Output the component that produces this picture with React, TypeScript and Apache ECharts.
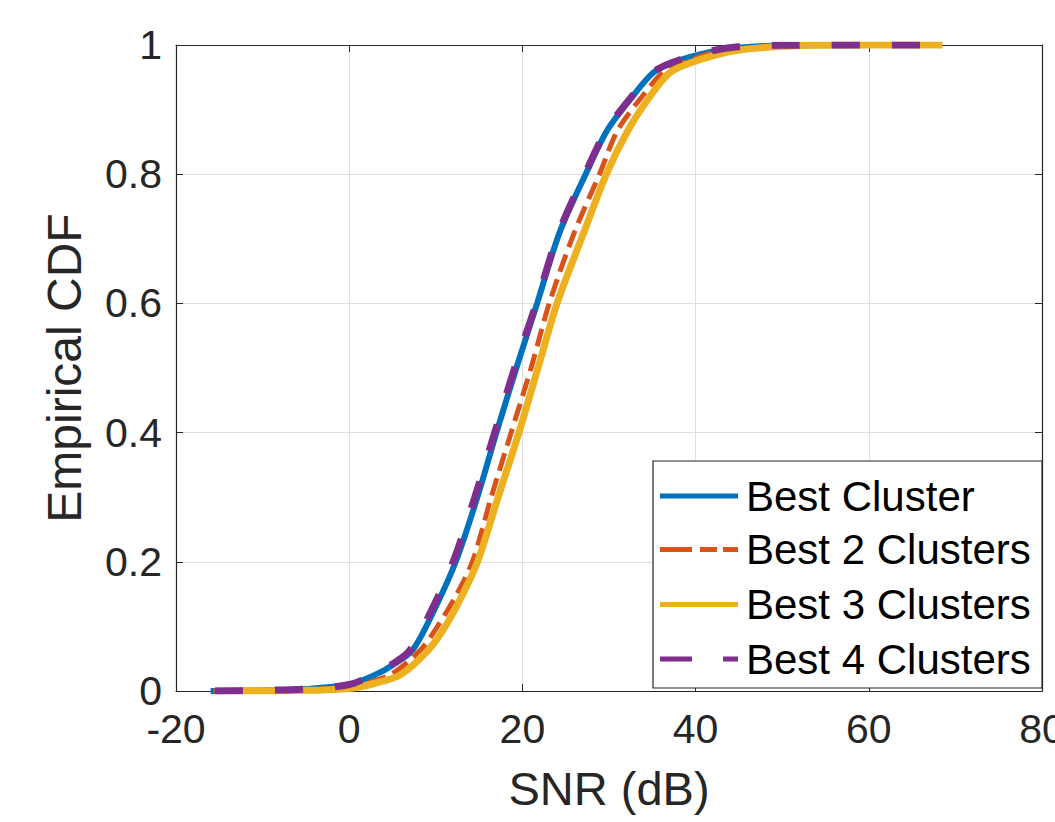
import React, { useEffect, useRef } from "react";
import * as echarts from "echarts";

// ---- data ----
const seriesNames = ["Best Cluster", "Best 2 Clusters", "Best 3 Clusters", "Best 4 Clusters"];

const snrBest1 = [-16, -10, -5, 0, 3, 5, 7.3, 9.8, 12.3, 14.8, 17.0, 19.3, 21.7, 24.3, 27.3, 29.8, 32.7, 35.1, 37.4, 42, 46, 52, 66];
const cdfBest1 = [0, 0.001, 0.003, 0.01, 0.025, 0.04, 0.063, 0.125, 0.2, 0.3, 0.4, 0.5, 0.6, 0.71, 0.8, 0.868, 0.92, 0.957, 0.973, 0.99, 0.997, 0.9995, 1];

const snrBest2 = [-15.7, -10, -5, 0, 4.7, 8.2, 10.2, 12.5, 14.3, 16.4, 18.7, 21.0, 23.1, 26.0, 28.9, 31.0, 33.8, 36.2, 38.5, 42, 47, 54, 67];
const cdfBest2 = [0, 0.0005, 0.002, 0.006, 0.025, 0.063, 0.1, 0.152, 0.203, 0.3, 0.4, 0.5, 0.6, 0.71, 0.8, 0.868, 0.92, 0.957, 0.972, 0.988, 0.996, 0.9995, 1];

const snrBest3 = [-15.5, -10, -5, 0, 3, 5.9, 9.1, 11.1, 13.2, 14.9, 17.2, 19.6, 21.8, 24.0, 27.1, 29.7, 32.2, 34.7, 37.0, 39.3, 44, 48, 53, 68.5];
const cdfBest3 = [0, 0.0005, 0.001, 0.004, 0.012, 0.025, 0.063, 0.1, 0.152, 0.203, 0.3, 0.4, 0.5, 0.6, 0.71, 0.8, 0.868, 0.92, 0.957, 0.972, 0.99, 0.996, 0.9995, 1];

const snrBest4 = [-15.5, -10, -5, 0, 2.8, 4.8, 7.0, 9.5, 12.0, 14.5, 16.8, 19.1, 21.6, 24.2, 27.2, 29.7, 32.6, 35.0, 37.3, 41.5, 45.5, 50, 67.5];
const cdfBest4 = [0, 0.001, 0.003, 0.01, 0.025, 0.04, 0.063, 0.125, 0.2, 0.3, 0.4, 0.5, 0.6, 0.71, 0.8, 0.868, 0.92, 0.957, 0.973, 0.99, 0.998, 0.9997, 1];

const xTickValues = [-20, 0, 20, 40, 60, 80];
const yTickValues = [0, 0.2, 0.4, 0.6, 0.8, 1];

const colors = ["#0072BD", "#D95319", "#EDB120", "#7E2F8E"];

const FONT = "'Liberation Sans', Arial, Helvetica, sans-serif";
const AXIS_COLOR = "#262626";

function pairs(xs: number[], ys: number[]) {
  return xs.map((x, i) => [x, ys[i]]);
}

export default function App() {
  const ref = useRef<HTMLDivElement>(null);

  useEffect(() => {
    document.body.style.margin = "0";
    if (!ref.current) return;
    const chart = echarts.init(ref.current, undefined, { renderer: "svg" });

    const xMin = xTickValues[0];
    const xMax = xTickValues[xTickValues.length - 1];
    const xInt = xTickValues[1] - xTickValues[0];
    const yMin = yTickValues[0];
    const yMax = yTickValues[yTickValues.length - 1];
    const yInt = yTickValues[1] - yTickValues[0];

    const tickStyle = { show: true, inside: true, length: 7, lineStyle: { color: AXIS_COLOR, width: 1 } };
    const lineStyleAxis = { show: true, onZero: false, lineStyle: { color: AXIS_COLOR, width: 1.2 } };

    const dataSets = [
      pairs(snrBest1, cdfBest1),
      pairs(snrBest2, cdfBest2),
      pairs(snrBest3, cdfBest3),
      pairs(snrBest4, cdfBest4),
    ];
    const widths = [6, 5, 7, 7];
    const dashes: any[] = ["solid", [18, 8], "solid", [28, 32]];
    const legendDashes: any[] = [null, [32, 8, 17, 6, 15, 0], null, [32, 31, 15, 0]];

    // legend drawn as graphic (box, line samples, labels)
    const lgLeft = 653;
    const lgTop = 461;
    const lgW = 389;
    const lgH = 227;
    const rowY = [496, 549.5, 604.5, 659];
    const legendEls: any[] = [
      {
        type: "rect",
        shape: { x: lgLeft, y: lgTop, width: lgW, height: lgH },
        style: { fill: "#ffffff", stroke: AXIS_COLOR, lineWidth: 1.2 },
        z: 100,
      },
    ];
    seriesNames.forEach((name, i) => {
      legendEls.push({
        type: "line",
        shape: { x1: 660, y1: rowY[i], x2: 738, y2: rowY[i] },
        style: {
          stroke: colors[i],
          lineWidth: 5,
          lineDash: legendDashes[i] || undefined,
          lineCap: "butt",
        },
        z: 101,
      });
      legendEls.push({
        type: "text",
        x: 746,
        y: rowY[i],
        style: {
          text: name,
          fontFamily: FONT,
          fontSize: 42,
          fill: "#000000",
          verticalAlign: "middle",
          align: "left",
        },
        z: 101,
      });
    });

    chart.setOption({
      animation: false,
      backgroundColor: "#ffffff",
      grid: { left: 176, right: 13, top: 45, bottom: 131, containLabel: false, outerBoundsMode: "none" },
      graphic: legendEls,
      xAxis: [
        {
          type: "value",
          min: xMin,
          max: xMax,
          interval: xInt,
          name: "SNR (dB)",
          nameLocation: "middle",
          nameGap: 74,
          nameTextStyle: { fontFamily: FONT, fontSize: 47, color: AXIS_COLOR },
          axisLine: lineStyleAxis,
          axisTick: tickStyle,
          axisLabel: { fontFamily: FONT, fontSize: 41, color: AXIS_COLOR, margin: 17, showMaxLabel: true, showMinLabel: true },
          splitLine: { show: true, lineStyle: { color: "#dfdfdf", width: 1 } },
        },
        {
          type: "value",
          position: "top",
          min: xMin,
          max: xMax,
          interval: xInt,
          axisLine: lineStyleAxis,
          axisTick: tickStyle,
          axisLabel: { show: false },
          splitLine: { show: false },
        },
      ],
      yAxis: [
        {
          type: "value",
          min: yMin,
          max: yMax,
          interval: yInt,
          name: "Empirical CDF",
          nameLocation: "middle",
          nameGap: 88,
          nameTextStyle: { fontFamily: FONT, fontSize: 48, color: AXIS_COLOR },
          axisLine: lineStyleAxis,
          axisTick: tickStyle,
          axisLabel: {
            fontFamily: FONT,
            fontSize: 41,
            color: AXIS_COLOR,
            margin: 14,
            formatter: (v: number) => String(Math.round(v * 10) / 10),
          },
          splitLine: { show: true, lineStyle: { color: "#dfdfdf", width: 1 } },
        },
        {
          type: "value",
          position: "right",
          min: yMin,
          max: yMax,
          interval: yInt,
          axisLine: lineStyleAxis,
          axisTick: tickStyle,
          axisLabel: { show: false },
          splitLine: { show: false },
        },
      ],
      series: seriesNames.map((name, i) => ({
        name,
        type: "line",
        xAxisIndex: 0,
        yAxisIndex: 0,
        data: dataSets[i],
        showSymbol: false,
        symbol: "none",
        smooth: 0.3,
        color: colors[i],
        lineStyle: { color: colors[i], width: widths[i], type: dashes[i], cap: "butt" },
        z: 2 + i,
      })),
    });

    return () => chart.dispose();
  }, []);

  return <div ref={ref} style={{ width: 1055, height: 822 }} />;
}
